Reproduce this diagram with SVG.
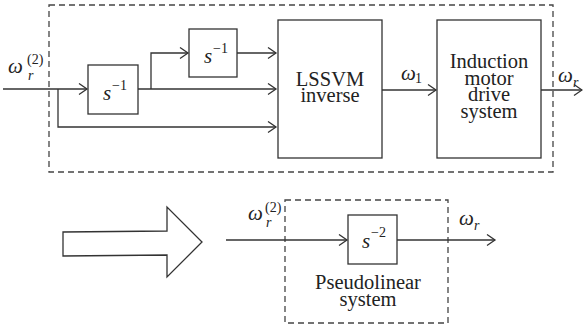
<svg xmlns="http://www.w3.org/2000/svg" width="583" height="330" viewBox="0 0 583 330">
<style>
.ln{fill:none;stroke:#333;stroke-width:1.3}
.bx{fill:#fff;stroke:#333;stroke-width:1.3}
.ds{fill:none;stroke:#444;stroke-width:1.3;stroke-dasharray:6,4}
text{font-family:Liberation Serif, Times New Roman, serif;fill:#222}
.t{font-size:20.5px;text-anchor:middle}
.m{font-style:italic;font-size:21px}
.sm{font-size:14px}
.smi{font-size:14px;font-style:italic}
</style>
<defs>
<marker id="ah" markerUnits="userSpaceOnUse" markerWidth="12" markerHeight="14" refX="9" refY="6" orient="auto">
<path d="M1,0.5 L9,6 L1,11.5" fill="none" stroke="#333" stroke-width="1.3"/>
</marker>
</defs>
<g id="frame-top"><rect class="ds" x="49" y="5" width="504" height="167"/></g>
<g id="frame-bottom"><rect class="ds" x="285" y="200" width="163" height="123"/></g>
<g id="int1"><rect class="bx" x="88" y="65" width="50" height="49"/>
<text class="m" x="103" y="100">s</text><text class="sm" x="112" y="90">−1</text></g>
<g id="int2"><rect class="bx" x="189" y="29" width="48" height="48"/>
<text class="m" x="204" y="63">s</text><text class="sm" x="213" y="53">−1</text></g>
<g id="lssvm"><rect class="bx" x="278" y="20" width="104" height="138"/>
<text class="t" x="330" y="86">LSSVM</text><text class="t" x="330" y="102">inverse</text></g>
<g id="motor"><rect class="bx" x="437" y="20" width="104" height="138"/>
<text class="t" x="489" y="68">Induction</text><text class="t" x="489" y="85">motor</text><text class="t" x="489" y="101">drive</text><text class="t" x="489" y="118">system</text></g>
<g id="int3"><rect class="bx" x="348" y="215" width="49" height="49"/>
<text class="m" x="362" y="248">s</text><text class="sm" x="371" y="237">−2</text></g>
<g id="pseudo-label"><text class="t" x="368" y="289">Pseudolinear</text><text class="t" x="368" y="306">system</text></g>
<g id="labels">
<text class="m" x="8" y="73">ω</text><text class="smi" x="28" y="80">r</text><text class="sm" x="27" y="64">(2)</text>
<text class="m" x="401" y="80">ω</text><text class="sm" x="415" y="83">1</text>
<text class="m" x="558" y="82">ω</text><text class="smi" x="573" y="87">r</text>
<text class="m" x="248" y="220">ω</text><text class="smi" x="266" y="227">r</text><text class="sm" x="265" y="212">(2)</text>
<text class="m" x="459" y="225">ω</text><text class="smi" x="474" y="230">r</text>
</g>
<g id="big-arrow"><polygon points="63,232 167,231 167,207 202,242 167,277 167,255 63,256" fill="#fff" stroke="#333" stroke-width="1.3"/></g>
<g id="connectors">
<path class="ln" d="M3,89 H87" marker-end="url(#ah)"/>
<path class="ln" d="M58,89 V127 H276" marker-end="url(#ah)"/>
<path class="ln" d="M138,89 H276" marker-end="url(#ah)"/>
<path class="ln" d="M151,89 V53 H188" marker-end="url(#ah)"/>
<path class="ln" d="M237,53 H276" marker-end="url(#ah)"/>
<path class="ln" d="M382,90 H436" marker-end="url(#ah)"/>
<path class="ln" d="M541,90 H582" marker-end="url(#ah)"/>
<path class="ln" d="M226,240 H347" marker-end="url(#ah)"/>
<path class="ln" d="M397,240 H495" marker-end="url(#ah)"/>
</g>
</svg>
